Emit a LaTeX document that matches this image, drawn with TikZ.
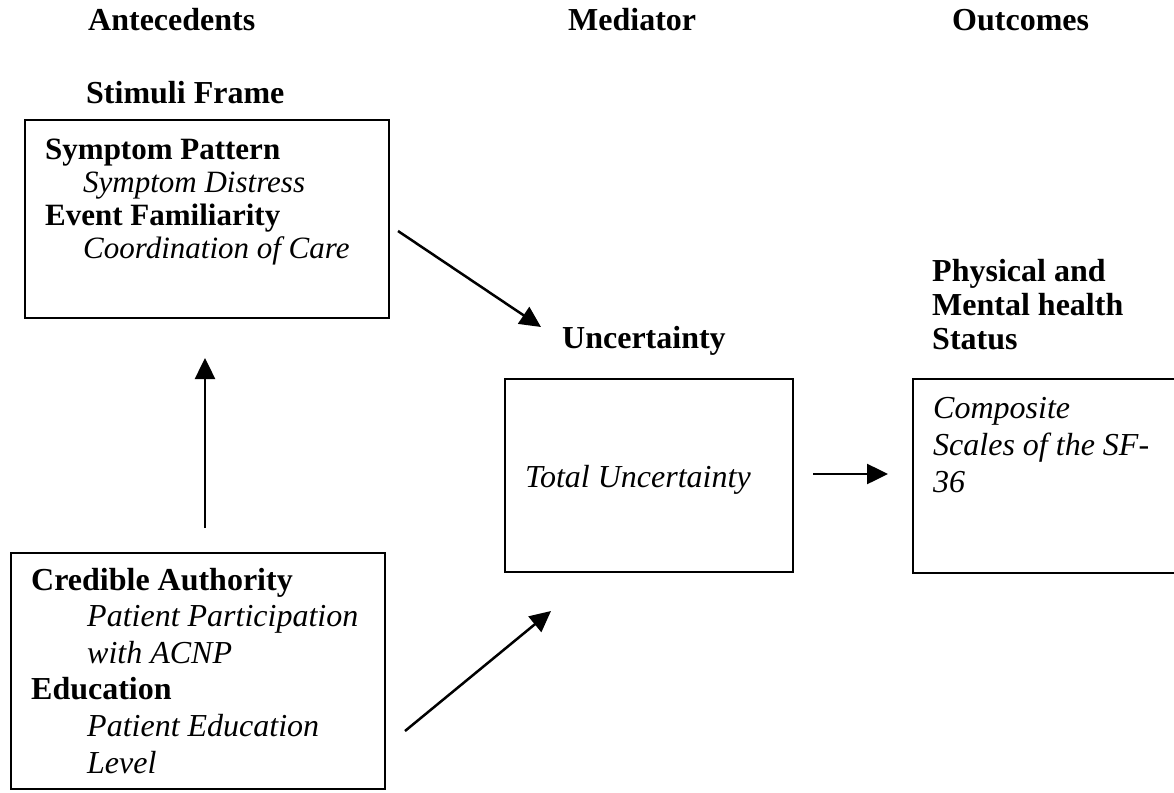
\documentclass[tikz,border=0pt]{standalone}
\usepackage{fontspec}
\setmainfont{Liberation Serif}
\usetikzlibrary{arrows.meta}
\begin{document}
\begin{tikzpicture}[x=1pt,y=-1pt,
  box/.style={draw=black,line width=2pt,inner sep=0pt,anchor=north west},
  hdr/.style={anchor=base west,inner sep=0pt,font=\fontsize{32}{36}\selectfont\bfseries},
  txt/.style={anchor=base west,inner sep=0pt,align=left},
  arr/.style={line width=2.5pt,-{Triangle[length=21pt,width=20pt]}}]
\useasboundingbox[fill=white] (0,0) rectangle (1174,792);
% headers
\node[hdr] (ante) at (88,31) {Antecedents};
\node[hdr] (medi) at (568,31) {Mediator};
\node[hdr] (outc) at (952,31) {Outcomes};
\node[hdr] (stimlab) at (86,103) {Stimuli Frame};
\node[hdr] (unclab) at (562,348) {Uncertainty};
\node[txt,font=\fontsize{32}{34}\selectfont\bfseries] (outlab) at (932,349) {Physical and\\Mental health\\Status};
% boxes
\node[box,minimum width=364pt,minimum height=198pt] (stim) at (24,119) {};
\node[box,minimum width=374pt,minimum height=236pt] (cred) at (10,552) {};
\node[box,minimum width=288pt,minimum height=193pt] (unc) at (504,378) {};
\node[box,minimum width=290pt,minimum height=194pt] (outb) at (912,378) {};
% box texts (base = baseline of last line)
\node[txt,font=\fontsize{31}{33}\selectfont] (stimtxt) at (45,258)
 {\textbf{Symptom Pattern}\\\hspace*{38pt}\textit{Symptom Distress}\\\textbf{Event Familiarity}\\\hspace*{38pt}\textit{Coordination of Care}};
\node[txt,font=\fontsize{32}{36.6}\selectfont] (credtxt) at (31,773)
 {\textbf{Credible Authority}\\\hspace*{56pt}\textit{Patient Participation}\\\hspace*{56pt}\textit{with ACNP}\\\textbf{Education}\\\hspace*{56pt}\textit{Patient Education}\\\hspace*{56pt}\textit{Level}};
\node[txt,font=\fontsize{32}{36}\selectfont\itshape] (unctxt) at (525,487) {Total Uncertainty};
\node[txt,font=\fontsize{32}{37}\selectfont\itshape] (outtxt) at (933,492) {Composite\\Scales of the SF-\\36};
% connectors
\coordinate (a1s) at (398,231);
\coordinate (a1e) at (541,327);
\coordinate (a2s) at (405,731);
\coordinate (a2e) at (551,611);
\coordinate (a3s) at (205,528);
\coordinate (a3e) at (205,358);
\coordinate (a4s) at (813,474);
\coordinate (a4e) at (888,474);
\draw[arr] (a1s) -- (a1e);
\draw[arr] (a2s) -- (a2e);
\draw[arr] (a3s) -- (a3e);
\draw[arr] (a4s) -- (a4e);
\end{tikzpicture}
\end{document}
